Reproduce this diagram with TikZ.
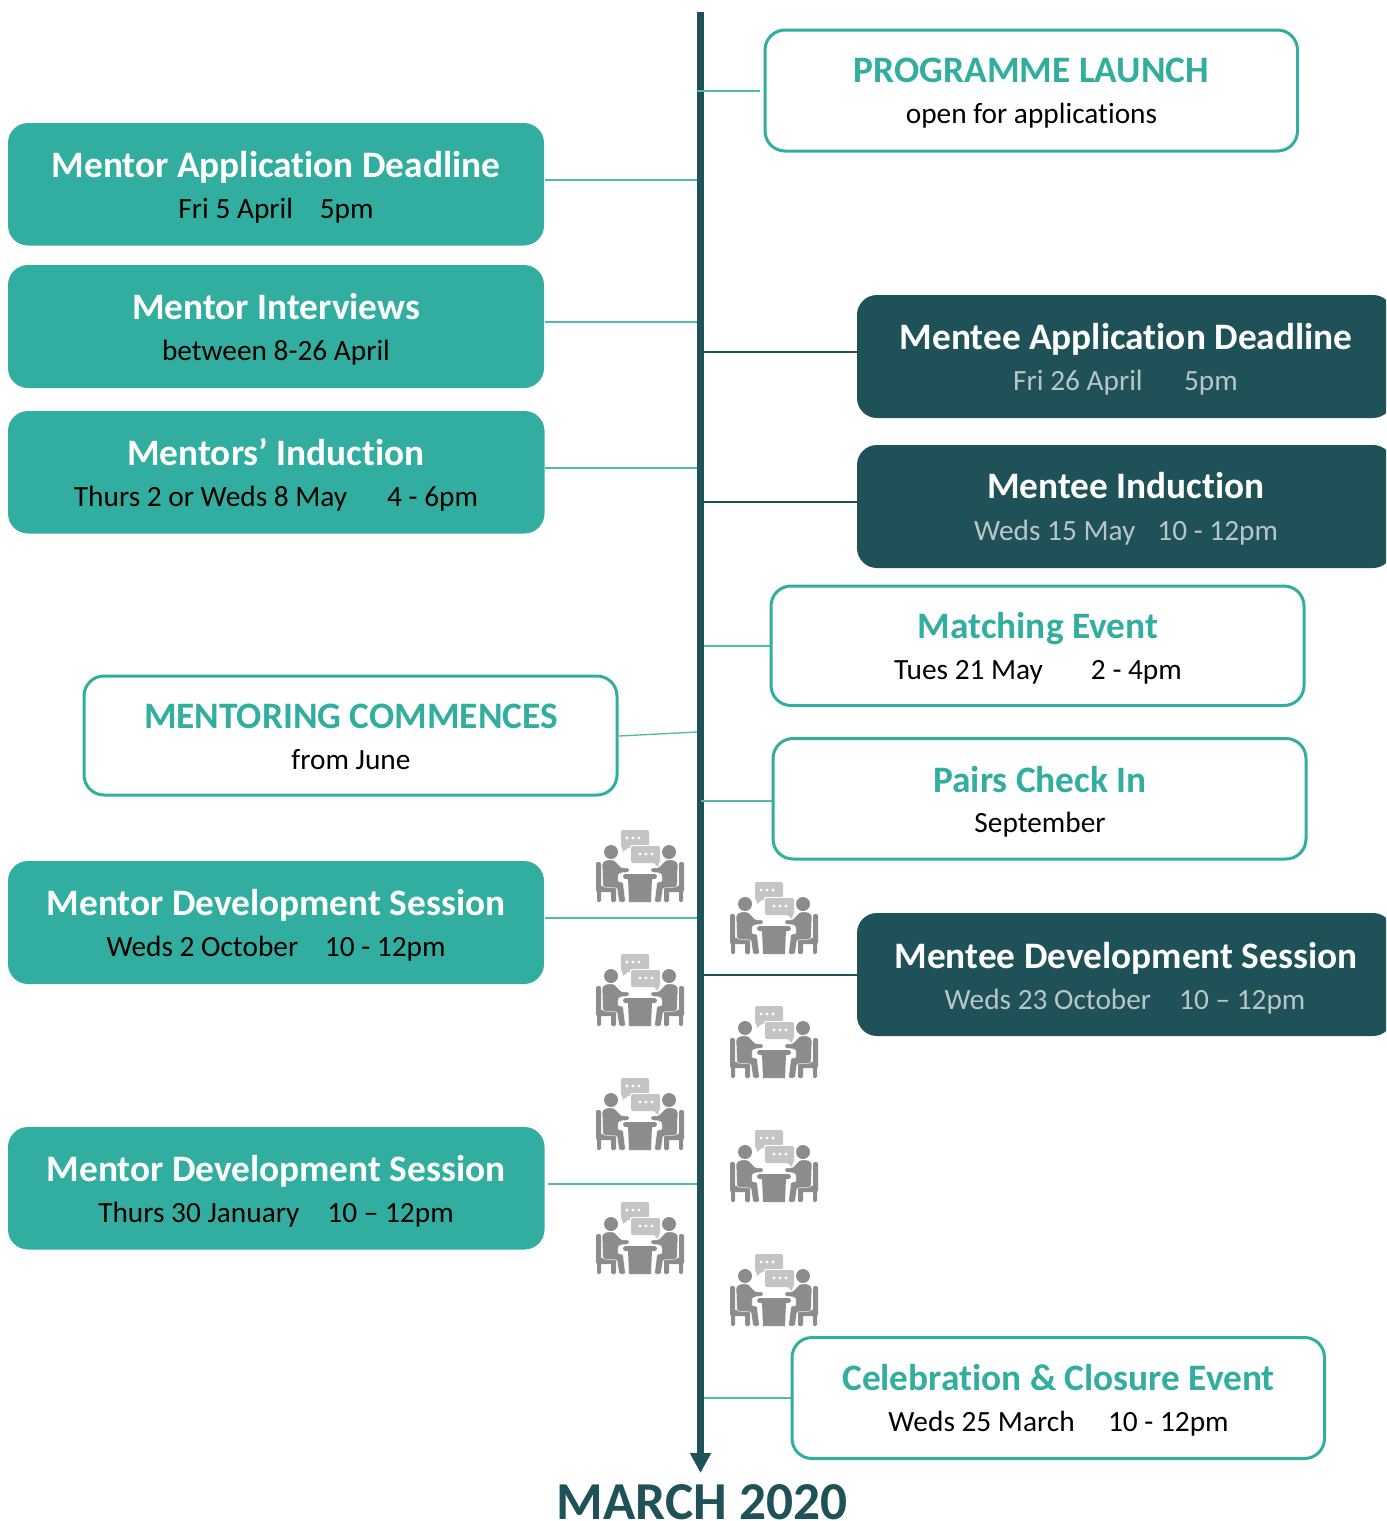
\documentclass[tikz,border=0pt]{standalone}
\usepackage{fontspec}
\setmainfont[Ligatures=NoCommon]{Carlito}
\usetikzlibrary{arrows.meta}
\definecolor{tealc}{HTML}{31AE9F}
\definecolor{darkc}{HTML}{1F5158}
\definecolor{subgrey}{HTML}{B9C6C8}
\definecolor{icong}{HTML}{8C8C8C}
\definecolor{bubg}{HTML}{C4C4C4}
\tikzset{
  x=0.75pt,y=-0.75pt,
  boxbase/.style={rounded corners=15pt,inner sep=0pt,outer sep=0pt},
  tealbox/.style={boxbase,fill=tealc},
  darkbox/.style={boxbase,fill=darkc},
  linebox/.style={boxbase,draw=tealc,line width=2.25pt,fill=white},
  ttlw/.style={anchor=base,inner sep=0pt,font=\fontsize{28}{30}\selectfont\bfseries,text=white},
  ttlt/.style={ttlw,text=tealc},
  subk/.style={anchor=base,inner sep=0pt,font=\fontsize{22}{24}\selectfont,text=black},
  subg/.style={subk,text=subgrey},
  linkt/.style={draw=tealc!85!white,line width=1pt},
  linkd/.style={draw=darkc,line width=1pt},
  spine/.style={draw=darkc,line width=5pt,-{Triangle[width=15pt,length=15pt]}}
}
\newcommand\evbox[6]{%
  \pgfmathsetlengthmacro\evw{(#5-#3)*0.75pt}%
  \pgfmathsetlengthmacro\evh{(#6-#4)*0.75pt}%
  \pgfmathsetmacro\evx{(#3+#5)/2}%
  \pgfmathsetmacro\evy{(#4+#6)/2}%
  \node[#2,minimum width=\evw,minimum height=\evh] (#1) at (\evx,\evy) {};}
\newcommand\talkicon[2]{%
\begin{scope}[shift={(#1,#2)}]
  \fill[bubg,rounded corners=1.5pt] (25,1) rectangle (53,19);
  \fill[bubg] (26,18) -- (27,23) -- (33,18) -- cycle;
  \fill[white,rounded corners=1.5pt] (34,16) rectangle (65,35);
  \fill[bubg,rounded corners=1.5pt] (35,17) rectangle (64,34);
  \fill[bubg] (57,33) -- (62,38) -- (63,33) -- cycle;
  \foreach \d in {31,37,43} \fill[white] (\d,9) circle (1.6);
  \foreach \d in {44,50,56} \fill[white] (\d,25) circle (1.6);
  \foreach \m/\o in {1/0,-1/88}{
  \begin{scope}[shift={(\o,0)},xscale=\m]
    \fill[icong,rounded corners=1.5pt] (0,33) rectangle (5,62);
    \fill[icong,rounded corners=1pt] (0,57) rectangle (20,63);
    \fill[icong,rounded corners=1pt] (1,60) rectangle (5,73);
    \fill[icong,rounded corners=1pt] (15,60) rectangle (20,73);
    \fill[icong] (15,23) circle (7);
    \filldraw[fill=icong,draw=white,line width=.3pt,rounded corners=1pt]
      (6,34) -- (10,31) -- (18,31) -- (26,39) -- (33,39) -- (33,43) -- (24,44)
      -- (22,46) -- (22,53) -- (27,53) -- (29.5,73) -- (23,73) -- (21,59) -- (7,58) -- cycle;
  \end{scope}}
  \fill[icong,rounded corners=2pt] (27,45) rectangle (61,50);
  \fill[icong] (32,49) -- (56,49) -- (55,73) -- (33,73) -- cycle;
\end{scope}}
\begin{document}
\begin{tikzpicture}
\useasboundingbox (0,0) rectangle (1386,1521);
\clip (0,0) rectangle (1386,1521);

\coordinate (spinetop) at (700.5,12);
\coordinate (spineend) at (700.5,1473);

\coordinate (s1) at (697,91);   \coordinate (b1) at (760,91);
\coordinate (s2) at (697,180);  \coordinate (b2) at (545,180);
\coordinate (s3) at (697,322);  \coordinate (b3) at (545,322);
\coordinate (s4) at (697,468);  \coordinate (b4) at (545,468);
\coordinate (s5) at (697,732);  \coordinate (b5) at (619,736);
\coordinate (s6) at (697,918);  \coordinate (b6) at (545,918);
\coordinate (s7) at (697,1184); \coordinate (b7) at (548,1184);
\coordinate (s8) at (704,352);  \coordinate (b8) at (857,352);
\coordinate (s9) at (704,502);  \coordinate (b9) at (857,502);
\coordinate (s10) at (704,646); \coordinate (b10) at (770,646);
\coordinate (s11) at (701,801); \coordinate (b11) at (772,801);
\coordinate (s12) at (704,975); \coordinate (b12) at (857,975);
\coordinate (s13) at (704,1398);\coordinate (b13) at (791,1398);

\draw[spine] (spinetop) -- (spineend);

\foreach \a/\b in {s1/b1,s2/b2,s3/b3,s4/b4,s5/b5,s6/b6,s7/b7,s10/b10,s11/b11,s13/b13}
  \draw[linkt] (\a) -- (\b);
\foreach \a/\b in {s8/b8,s9/b9,s12/b12}
  \draw[linkd] (\a) -- (\b);

\evbox{launch}{linebox}{765}{30}{1297.5}{151}
\node[ttlt] (launcht) at (1031.5,82.5) {PROGRAMME LAUNCH};
\node[subk] (launchs) at (1031.5,123.5) {open for applications};

\evbox{mappl}{tealbox}{8}{123}{544}{245.5}
\node[ttlw] (mapplt) at (276,177.5) {Mentor Application Deadline};
\node[subk] (mappls) at (276,218) {Fri 5 April\hspace{20pt}5pm};

\evbox{mint}{tealbox}{8}{265}{544}{388}
\node[ttlw] (mintt) at (276,319.5) {Mentor Interviews};
\node[subk] (mints) at (276,360) {between 8-26 April};

\evbox{mind}{tealbox}{8}{411}{544.5}{533.5}
\node[ttlw] (mindt) at (276,465.5) {Mentors’ Induction};
\node[subk] (minds) at (276,506) {Thurs 2 or Weds 8 May\hspace{30pt}4 - 6pm};

\evbox{comm}{linebox}{84}{676}{617}{795}
\node[ttlt] (commt) at (351,728.5) {MENTORING COMMENCES};
\node[subk] (comms) at (351,769) {from June};

\evbox{mdev}{tealbox}{8}{861}{544}{984}
\node[ttlw] (mdevt) at (276,915.5) {Mentor Development Session};
\node[subk] (mdevs) at (276,956) {Weds 2 October\hspace{20pt}10 - 12pm};

\evbox{mdevb}{tealbox}{8}{1127}{544.5}{1249.5}
\node[ttlw] (mdevbt) at (276,1181.5) {Mentor Development Session};
\node[subk] (mdevbs) at (276,1222) {Thurs 30 January\hspace{21pt}10 – 12pm};

\evbox{eappl}{darkbox}{857}{295}{1393}{418}
\node[ttlw] (eapplt) at (1126,349.5) {Mentee Application Deadline};
\node[subg] (eappls) at (1125.5,390) {Fri 26 April\hspace{31pt}5pm};

\evbox{eind}{darkbox}{857}{445}{1393}{568}
\node[ttlw] (eindt) at (1126,498.5) {Mentee Induction};
\node[subg] (einds) at (1126,540) {Weds 15 May\hspace{16.5pt}10 - 12pm};

\evbox{match}{linebox}{771}{586}{1304}{705.5}
\node[ttlt] (matcht) at (1038,638.5) {Matching Event};
\node[subk] (matchs) at (1038,679) {Tues 21 May\hspace{36pt}2 - 4pm};

\evbox{pairs}{linebox}{773}{738.5}{1306}{859}
\node[ttlt] (pairst) at (1040,792) {Pairs Check In};
\node[subk] (pairss) at (1040,832) {September};

\evbox{edev}{darkbox}{857}{913}{1393}{1036}
\node[ttlw] (edevt) at (1126,968.5) {Mentee Development Session};
\node[subg] (edevs) at (1125,1009) {Weds 23 October\hspace{21pt}10 – 12pm};

\evbox{celeb}{linebox}{792}{1337.5}{1324.5}{1458.5}
\node[ttlt] (celebt) at (1058.5,1390.5) {Celebration \& Closure Event};
\node[subk] (celebs) at (1058.5,1431) {Weds 25 March\hspace{25pt}10 - 12pm};

\node[anchor=base,inner sep=0pt,font=\fontsize{40}{42}\selectfont\bfseries,text=darkc] (endlabel) at (702,1519) {MARCH 2020};

\talkicon{596}{829}
\talkicon{596}{953}
\talkicon{596}{1077}
\talkicon{596}{1201}
\talkicon{730}{881}
\talkicon{730}{1005}
\talkicon{730}{1129}
\talkicon{730}{1253}
\end{tikzpicture}
\end{document}
